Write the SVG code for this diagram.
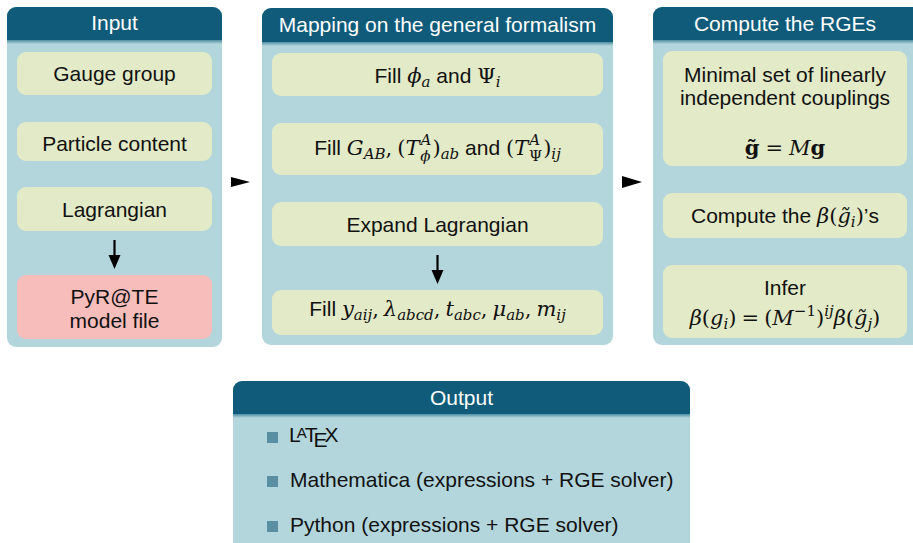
<svg xmlns="http://www.w3.org/2000/svg" width="913" height="543" viewBox="0 0 913 543">
<defs>
<linearGradient id="shade" x1="0" y1="0" x2="0" y2="1">
<stop offset="0" stop-color="#4f8ea3"/>
<stop offset="1" stop-color="#b3d6dc"/>
</linearGradient>
<clipPath id="cpIn"><rect x="7" y="7" width="215" height="340" rx="9"/></clipPath>
<clipPath id="cpMap"><rect x="262" y="8" width="351" height="337" rx="9"/></clipPath>
<clipPath id="cpRge"><rect x="653" y="7" width="270" height="338" rx="9"/></clipPath>
<clipPath id="cpOut"><rect x="233" y="381" width="457" height="180" rx="9"/></clipPath>
</defs>
<style>
.body{fill:#b3d6dc}
.head{fill:#0f5b79}
.box{fill:#e3eac7}
.pink{fill:#f7bdbb}
.ht{font-family:"Liberation Sans",Arial,sans-serif;font-size:21px;fill:#ffffff;text-anchor:middle}
.t{font-family:"Liberation Sans",Arial,sans-serif;font-size:21px;fill:#111111;text-anchor:middle}
.tl{font-family:"Liberation Sans",Arial,sans-serif;font-size:21px;fill:#111111}
.m{font-family:"DejaVu Serif","Liberation Serif",serif;font-style:italic;font-size:21px}
.r{font-family:"DejaVu Serif","Liberation Serif",serif;font-style:normal;font-size:21px}
.m.s,.r.s{font-size:15px}
.bul{fill:#5a8fa3}
.arr{fill:#000000}
</style>

<g id="panel-input">
<g clip-path="url(#cpIn)">
<rect x="7" y="7" width="215" height="340" class="body"/>
<rect x="7" y="7" width="215" height="33" class="head"/>
<rect x="7" y="40" width="215" height="4" fill="url(#shade)"/>
</g>
<text x="114.5" y="30" class="ht">Input</text>
</g>
<g id="node-gauge">
<rect x="17" y="52" width="195" height="43" rx="9" class="box"/>
<text x="114.5" y="81" class="t">Gauge group</text>
</g>
<g id="node-particle">
<rect x="17" y="122" width="195" height="39" rx="9" class="box"/>
<text x="114.5" y="151" class="t">Particle content</text>
</g>
<g id="node-lagrangian">
<rect x="17" y="187" width="195" height="44" rx="9" class="box"/>
<text x="114.5" y="217" class="t">Lagrangian</text>
</g>
<g id="node-pyrate">
<rect x="17" y="275" width="195" height="64" rx="9" class="pink"/>
<text x="114.5" y="304" class="t">PyR@TE</text>
<text x="114.5" y="328" class="t">model file</text>
</g>

<g id="panel-mapping">
<g clip-path="url(#cpMap)">
<rect x="262" y="8" width="351" height="337" class="body"/>
<rect x="262" y="8" width="351" height="34" class="head"/>
<rect x="262" y="42" width="351" height="4" fill="url(#shade)"/>
</g>
<text x="437.5" y="32" class="ht">Mapping on the general formalism</text>
</g>
<g id="node-fill1">
<rect x="272" y="53" width="331" height="43" rx="9" class="box"/>
<text x="437.5" y="83" class="t">Fill <tspan class="m">ϕ</tspan><tspan class="m s" dy="4">a</tspan><tspan dy="-4"> and </tspan><tspan class="r">Ψ</tspan><tspan class="m s" dy="4">i</tspan></text>
</g>
<g id="node-fill2">
<rect x="272" y="123" width="331" height="52" rx="9" class="box"/>
<text x="437.5" y="155" class="t">Fill <tspan class="m">G</tspan><tspan class="m s" dy="4">AB</tspan><tspan class="r" dy="-4">,</tspan><tspan class="r" dx="5">(</tspan><tspan class="m">T</tspan><tspan class="m s" dx="1" dy="-10">A</tspan><tspan class="m s" dx="-11" dy="16">ϕ</tspan><tspan class="r" dx="2" dy="-6">)</tspan><tspan class="m s" dy="4">ab</tspan><tspan dy="-4"> and </tspan><tspan class="r">(</tspan><tspan class="m">T</tspan><tspan class="m s" dx="1" dy="-10">A</tspan><tspan class="r s" dx="-11" dy="16">Ψ</tspan><tspan class="r" dx="1" dy="-6">)</tspan><tspan class="m s" dy="4">ij</tspan></text>
</g>
<g id="node-expand">
<rect x="272" y="202" width="331" height="44" rx="9" class="box"/>
<text x="437.5" y="232" class="t">Expand Lagrangian</text>
</g>
<g id="node-fill3">
<rect x="272" y="290" width="331" height="45" rx="9" class="box"/>
<text x="437.5" y="316" class="t">Fill <tspan class="m">y</tspan><tspan class="m s" dy="4">aij</tspan><tspan class="r" dy="-4">,</tspan><tspan class="m" dx="5">λ</tspan><tspan class="m s" dy="4">abcd</tspan><tspan class="r" dy="-4">,</tspan><tspan class="m" dx="5">t</tspan><tspan class="m s" dy="4">abc</tspan><tspan class="r" dy="-4">,</tspan><tspan class="m" dx="5">μ</tspan><tspan class="m s" dy="4">ab</tspan><tspan class="r" dy="-4">,</tspan><tspan class="m" dx="5">m</tspan><tspan class="m s" dy="4">ij</tspan></text>
</g>

<g id="panel-rges">
<g clip-path="url(#cpRge)">
<rect x="653" y="7" width="270" height="338" class="body"/>
<rect x="653" y="7" width="270" height="33" class="head"/>
<rect x="653" y="40" width="270" height="4" fill="url(#shade)"/>
</g>
<text x="785" y="31" class="ht">Compute the RGEs</text>
</g>
<g id="node-minimal">
<rect x="663" y="51" width="244" height="115" rx="9" class="box"/>
<text x="785" y="82" class="t">Minimal set of linearly</text>
<text x="785" y="105" class="t">independent couplings</text>
<text x="785" y="155" class="t"><tspan class="r" font-weight="bold">g̃</tspan><tspan class="r" dx="6">=</tspan><tspan class="m" dx="6">M</tspan><tspan class="r" font-weight="bold">g</tspan></text>
</g>
<g id="node-compute">
<rect x="663" y="193" width="244" height="45" rx="9" class="box"/>
<text x="785" y="223" class="t">Compute the <tspan class="m">β</tspan><tspan class="r">(</tspan><tspan class="m">g̃</tspan><tspan class="m s" dy="4">i</tspan><tspan class="r" dy="-4">)</tspan>’s</text>
</g>
<g id="node-infer">
<rect x="663" y="265" width="244" height="73" rx="9" class="box"/>
<text x="785" y="295" class="t">Infer</text>
<text x="785" y="325" class="t"><tspan class="m">β</tspan><tspan class="r">(</tspan><tspan class="m">g</tspan><tspan class="m s" dy="4">i</tspan><tspan class="r" dy="-4">)</tspan><tspan class="r" dx="5">=</tspan><tspan class="r" dx="5">(</tspan><tspan class="m">M</tspan><tspan class="r s" dy="-9">−1</tspan><tspan class="r" dy="9">)</tspan><tspan class="m s" dy="-9">ij</tspan><tspan class="m" dy="9">β</tspan><tspan class="r">(</tspan><tspan class="m">g̃</tspan><tspan class="m s" dy="4">j</tspan><tspan class="r" dy="-4">)</tspan></text>
</g>

<g id="panel-output">
<g clip-path="url(#cpOut)">
<rect x="233" y="381" width="457" height="180" class="body"/>
<rect x="233" y="381" width="457" height="33" class="head"/>
<rect x="233" y="414" width="457" height="4" fill="url(#shade)"/>
</g>
<text x="461.5" y="405" class="ht">Output</text>
<rect x="267" y="432" width="11" height="11" class="bul"/>
<text x="289" y="442" class="tl" letter-spacing="-1">L<tspan font-size="15" dx="-3" dy="-4">A</tspan><tspan dx="-1" dy="4">T</tspan><tspan dx="-3" dy="5">E</tspan><tspan dx="-2" dy="-5">X</tspan></text>
<rect x="267" y="476" width="11" height="11" class="bul"/>
<text x="290" y="487" class="tl">Mathematica (expressions + RGE solver)</text>
<rect x="267" y="521" width="11" height="11" class="bul"/>
<text x="290" y="532" class="tl">Python (expressions + RGE solver)</text>
</g>

<g id="connectors">
<path d="M231,177 L250,182 L231,187 Z" class="arr"/>
<path d="M622,176 L642,182 L622,188 Z" class="arr"/>
<line x1="114.5" y1="240" x2="114.5" y2="258" stroke="#000" stroke-width="2.2"/>
<path d="M108.5,255 L120.5,255 L114.5,269 Z" class="arr"/>
<line x1="437.5" y1="255" x2="437.5" y2="273" stroke="#000" stroke-width="2.2"/>
<path d="M431.5,270 L443.5,270 L437.5,284 Z" class="arr"/>
</g>
</svg>
